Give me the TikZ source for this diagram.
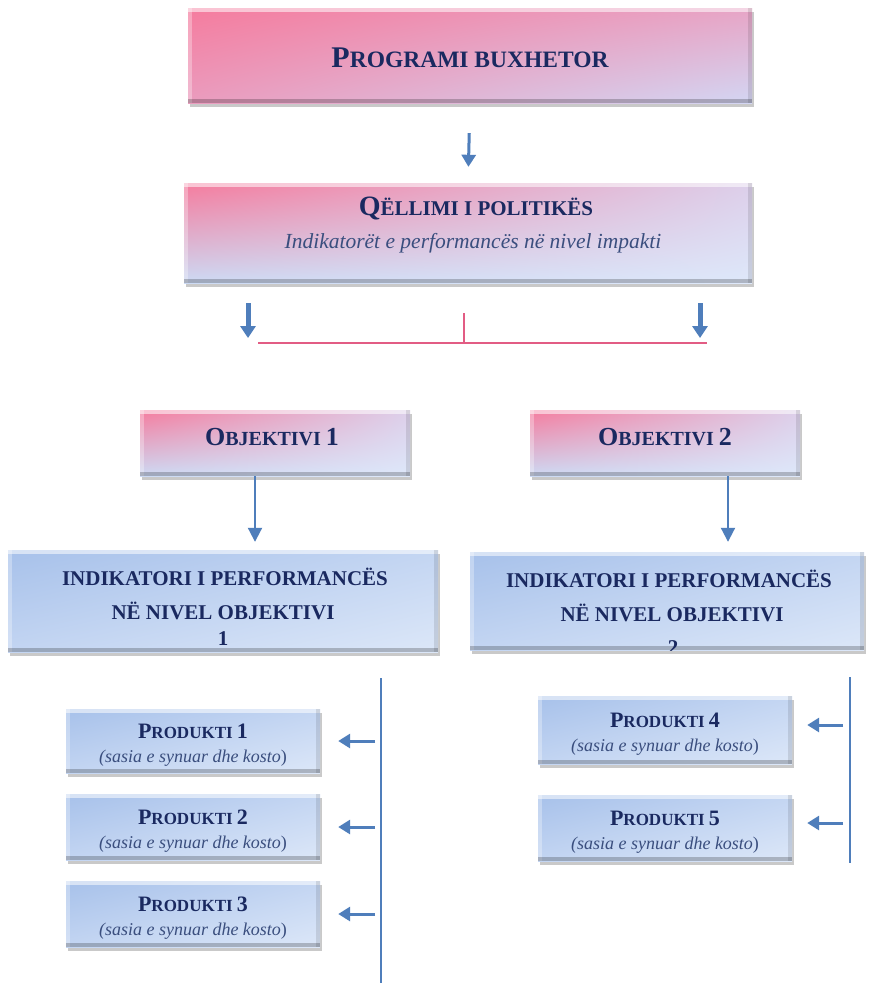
\documentclass[tikz,border=0pt]{standalone}
\usepackage{fontspec}
\setmainfont{Liberation Serif}
\usetikzlibrary{arrows.meta,shadows,shadings}
\definecolor{navy}{HTML}{1A2960}
\definecolor{slate}{HTML}{3A4E7E}
\definecolor{arrowblue}{HTML}{4F7EBB}
\definecolor{redline}{HTML}{E25C84}
\definecolor{pinkA}{HTML}{F57C9E}
\definecolor{pinkB}{HTML}{E7A5C6}
\definecolor{pinkC}{HTML}{EA9CBE}
\definecolor{lavA}{HTML}{D3D6F3}
\definecolor{lavB}{HTML}{DCCFEA}
\definecolor{blueL}{HTML}{CCDAF4}
\definecolor{blueXL}{HTML}{DEE8FA}
\definecolor{blueA}{HTML}{A7C1EA}
\definecolor{blueB}{HTML}{C3D5F2}
\definecolor{blueC}{HTML}{DCE7F8}
\newcommand{\fsc}[4]{{\fontsize{#1}{#1}\selectfont #3}{\fontsize{#2}{#2}\selectfont #4}}
\newcommand{\bigsz}[2]{{\fontsize{#1}{#1}\selectfont #2}}
\tikzset{
  bevel/.style={path picture={
    \fill[white,opacity=.55] (path picture bounding box.north west) rectangle ([yshift=-4pt]path picture bounding box.north east);
    \fill[white,opacity=.3] (path picture bounding box.north west) rectangle ([xshift=4pt]path picture bounding box.south west);
    \fill[black,opacity=.10] (path picture bounding box.north east) rectangle ([xshift=-4pt]path picture bounding box.south east);
    \fill[black,opacity=.22] (path picture bounding box.south west) rectangle ([yshift=4pt]path picture bounding box.south east);
  }},
  boxbase/.style={rectangle, inner sep=0pt, draw=none,
    drop shadow={shadow xshift=2pt, shadow yshift=-4pt, fill=black!60, opacity=.35}, bevel},
  topbox/.style={boxbase, shade, shading=bilinear interpolation,
    upper left=pinkA, upper right=pinkB, lower left=pinkC, lower right=lavA},
  pinkbox/.style={boxbase, shade, shading=bilinear interpolation,
    upper left=pinkA, upper right=lavB, lower left=blueL, lower right=blueXL},
  bluebox/.style={boxbase, shade, shading=bilinear interpolation,
    upper left=blueA, upper right=blueB, lower left=blueB, lower right=blueC},
  txt/.style={text=navy, align=center, inner sep=0pt, font=\bfseries},
  subtxt/.style={text=slate, align=center, inner sep=0pt},
  arr/.style={draw=arrowblue, line width=3pt, -{Triangle[width=14pt,length=12pt]}},
  fatarr/.style={draw=arrowblue, line width=5pt, -{Triangle[width=15pt,length=12pt]}},
  thinarr/.style={draw=arrowblue, line width=2pt, -{Triangle[width=14pt,length=14pt]}},
  vline/.style={draw=arrowblue, line width=2pt},
  rline/.style={draw=redline, line width=2.5pt},
}
\begin{document}
\begin{tikzpicture}[x=1pt,y=-1pt]
\useasboundingbox[fill=white] (0,0) rectangle (868,983);

% boxes
\node[topbox, minimum width=564pt, minimum height=95pt] (box1) at (470,55.5) {};
\node[pinkbox, minimum width=568pt, minimum height=100pt] (box2) at (468,233) {};
\node[pinkbox, minimum width=270pt, minimum height=66pt] (obj1) at (275,443) {};
\node[pinkbox, minimum width=270pt, minimum height=66pt] (obj2) at (665,443) {};
\node[bluebox, minimum width=430pt, minimum height=102pt] (ind1) at (223,601) {};
\node[bluebox, minimum width=394pt, minimum height=98pt] (ind2) at (667,601) {};
\node[bluebox, minimum width=254pt, minimum height=64pt] (p1) at (193,741) {};
\node[bluebox, minimum width=254pt, minimum height=66pt] (p2) at (193,827) {};
\node[bluebox, minimum width=254pt, minimum height=66pt] (p3) at (193,914) {};
\node[bluebox, minimum width=254pt, minimum height=68pt] (p4) at (665,730) {};
\node[bluebox, minimum width=254pt, minimum height=66pt] (p5) at (665,828) {};

% texts
\node[txt] (box1t) at (470,58) {\fsc{30}{23.5}{P}{ROGRAMI BUXHETOR}};
\node[txt] (box2t) at (476,208) {\fsc{28}{21}{Q}{ËLLIMI I POLITIKËS}};
\node[subtxt] (box2s) at (473,243) {\fontsize{21.5}{21.5}\selectfont\itshape Indikatorët e performancës në nivel impakti};
\node[txt] (obj1t) at (272,437) {\fsc{26}{20}{O}{BJEKTIVI }\bigsz{26}{1}};
\node[txt] (obj2t) at (665,437) {\fsc{26}{20}{O}{BJEKTIVI }\bigsz{26}{2}};

\node[txt] (ind1a) at (225,577) {\bigsz{21}{INDIKATORI I PERFORMANCËS}};
\node[txt] (ind1b) at (223,611) {\bigsz{21}{NË NIVEL OBJEKTIVI}};
\node[txt] (ind1c) at (223,639) {\bigsz{21}{1}};
\begin{scope}
  \clip (ind2.north west) rectangle (ind2.south east);
  \node[txt] (ind2a) at (669,579) {\bigsz{21}{INDIKATORI I PERFORMANCËS}};
  \node[txt] (ind2b) at (672,613) {\bigsz{21}{NË NIVEL OBJEKTIVI}};
  \node[txt] (ind2c) at (673,648) {\bigsz{21}{2}};
\end{scope}

\foreach \p/\n in {p1/1,p2/2,p3/3,p4/4,p5/5}{
  \node[txt] (\p t) at ([yshift=10pt]\p.center) {\fsc{22}{17}{P}{RODUKTI }\bigsz{22}{\n}};
  \node[subtxt] (\p s) at ([yshift=-17pt]\p.center) {\fontsize{18}{18}\selectfont\itshape (sasia e synuar dhe kosto\/\upshape)};
}

% connectors
\draw[arr, shorten <=30pt, shorten >=16pt] (box1.south) -- (box2.north);

\coordinate (al) at (248,303);
\coordinate (ar) at (700,303);
\coordinate (rl) at (258,343);
\coordinate (rr) at (707,343);
\coordinate (rt) at (464,313);
\draw[fatarr] (al) -- ([yshift=5pt]al |- rl);
\draw[fatarr] (ar) -- ([yshift=5pt]ar |- rr);
\draw[rline] (rl) -- (rr);
\draw[draw=redline, line width=2pt] (rt) -- (rt |- rl);

\draw[thinarr, shorten >=8pt] ([xshift=-20pt]obj1.south) -- ([xshift=-20pt]obj1.south |- ind1.north);
\draw[thinarr, shorten >=10pt] ([xshift=63pt]obj2.south) -- ([xshift=63pt]obj2.south |- ind2.north);

\coordinate (v1t) at (381,678);
\coordinate (v1b) at (381,983);
\coordinate (v2t) at (850,677);
\coordinate (v2b) at (850,863);
\draw[vline] (v1t) -- (v1b);
\draw[vline] (v2t) -- (v2b);

\draw[arr, shorten <=6pt, shorten >=18pt] (p1.east -| v1t) -- (p1.east);
\draw[arr, shorten <=6pt, shorten >=18pt] (p2.east -| v1t) -- (p2.east);
\draw[arr, shorten <=6pt, shorten >=18pt] (p3.east -| v1t) -- (p3.east);
\draw[arr, shorten <=7pt, shorten >=15pt] ([yshift=5pt]p4.east -| v2t) -- ([yshift=5pt]p4.east);
\draw[arr, shorten <=7pt, shorten >=15pt] ([yshift=5pt]p5.east -| v2t) -- ([yshift=5pt]p5.east);
\end{tikzpicture}
\end{document}
